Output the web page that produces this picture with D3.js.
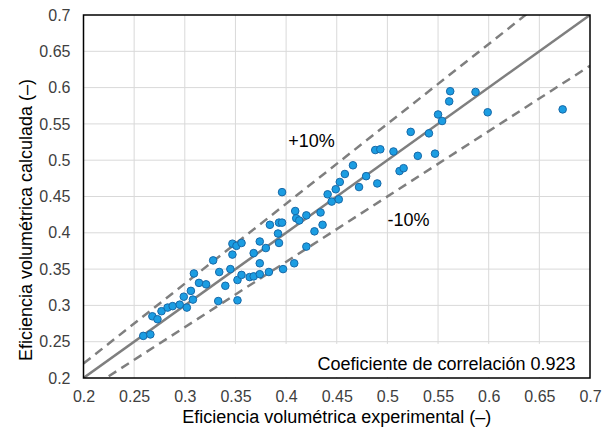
<!DOCTYPE html>
<html>
<head>
<meta charset="utf-8">
<script src="https://cdn.jsdelivr.net/npm/d3@7"></script>
<style>
  body { margin: 0; background: #fff; }
  svg { font-family: "Liberation Sans", Arial, sans-serif; display: block; }
  .grid line { stroke: #d9d9d9; stroke-width: 1; }
  .axis text { fill: #404040; font-size: 16px; }
</style>
</head>
<body>
<svg class="parity" width="609" height="431"></svg>
<script>
// valores
var expVals = [0.259, 0.266, 0.268, 0.273, 0.277, 0.283, 0.288, 0.295, 0.302, 0.299,
  0.308, 0.306, 0.309, 0.314, 0.321, 0.328, 0.334, 0.340, 0.333, 0.345,
  0.347, 0.347, 0.351, 0.356, 0.352, 0.352, 0.356, 0.364, 0.368, 0.374,
  0.374, 0.368, 0.374, 0.380, 0.384, 0.383, 0.392, 0.393, 0.393, 0.396,
  0.397, 0.408, 0.409, 0.410, 0.413, 0.420, 0.420, 0.428, 0.434, 0.436,
  0.445, 0.452, 0.396, 0.441, 0.449, 0.453, 0.458, 0.466, 0.472, 0.479,
  0.490, 0.488, 0.493, 0.506, 0.512, 0.516, 0.530, 0.547, 0.523, 0.541,
  0.550, 0.554, 0.561, 0.562, 0.587, 0.599, 0.673];
var calcVals = [0.258, 0.260, 0.285, 0.281, 0.292, 0.297, 0.299, 0.301, 0.297, 0.312,
  0.308, 0.320, 0.344, 0.331, 0.329, 0.362, 0.346, 0.327, 0.306, 0.350,
  0.370, 0.385, 0.382, 0.386, 0.307, 0.335, 0.342, 0.339, 0.340, 0.343,
  0.358, 0.372, 0.388, 0.379, 0.411, 0.346, 0.399, 0.386, 0.414, 0.414,
  0.350, 0.358, 0.430, 0.420, 0.417, 0.424, 0.381, 0.402, 0.428, 0.411,
  0.443, 0.446, 0.456, 0.453, 0.460, 0.470, 0.481, 0.493, 0.463, 0.478,
  0.468, 0.514, 0.515, 0.512, 0.485, 0.489, 0.506, 0.509, 0.539, 0.537,
  0.563, 0.554, 0.581, 0.595, 0.594, 0.566, 0.570];
var tickLabels = ["0.2", "0.25", "0.3", "0.35", "0.4", "0.45", "0.5", "0.55", "0.6", "0.65", "0.7"];
var bandFactors = [1.1, 0.9];
var bandLabels = ["+10%", "-10%"];
var corrCoef = "0.923";

var svg = d3.select("svg.parity"),
    margin = {top: 15, right: 19, bottom: 53, left: 83.5},
    width = +svg.attr("width") - margin.left - margin.right,
    height = +svg.attr("height") - margin.top - margin.bottom,
    g = svg.append("g").attr("transform", "translate(" + margin.left + "," + margin.top + ")");

var ticks = tickLabels.map(Number);

var x = d3.scaleLinear().domain([0.2, 0.7]).range([0, width]);
var y = d3.scaleLinear().domain([0.2, 0.7]).range([height, 0]);

// rejilla
g.append("g")
    .attr("class", "grid")
    .selectAll("line.v")
    .data(ticks.slice(1, -1))
    .enter().append("line")
      .attr("x1", function(d) { return x(d); })
      .attr("x2", function(d) { return x(d); })
      .attr("y1", 0)
      .attr("y2", height);

g.append("g")
    .attr("class", "grid")
    .selectAll("line.h")
    .data(ticks.slice(1, -1))
    .enter().append("line")
      .attr("y1", function(d) { return y(d); })
      .attr("y2", function(d) { return y(d); })
      .attr("x1", 0)
      .attr("x2", width);

// cuadro del coeficiente
g.append("rect")
    .attr("x", x(0.338))
    .attr("y", y(0.247))
    .attr("width", width - x(0.338) - 1)
    .attr("height", height - y(0.247) - 1)
    .attr("fill", "#fff");

g.append("defs").append("clipPath")
    .attr("id", "clip")
  .append("rect")
    .attr("width", width)
    .attr("height", height);

var lines = g.append("g").attr("clip-path", "url(#clip)");

lines.append("line")
    .attr("x1", x(0.2)).attr("y1", y(0.2))
    .attr("x2", x(0.7)).attr("y2", y(0.7))
    .attr("stroke", "#7f7f7f")
    .attr("stroke-width", 2.5);

lines.selectAll("line.band")
    .data(bandFactors)
    .enter().append("line")
      .attr("class", "band")
      .attr("x1", x(0.2))
      .attr("y1", function(d) { return y(0.2 * d); })
      .attr("x2", x(0.7))
      .attr("y2", function(d) { return y(0.7 * d); })
      .attr("stroke", "#7f7f7f")
      .attr("stroke-width", 2.5)
      .attr("stroke-dasharray", "9,6");

g.selectAll(".dot")
    .data(expVals)
    .enter().append("circle")
      .attr("class", "dot")
      .attr("cx", function(d) { return x(d); })
      .attr("cy", function(d, i) { return y(calcVals[i]); })
      .attr("r", 3.8)
      .attr("fill", "#1b9de2")
      .attr("stroke", "#1769a8")
      .attr("stroke-width", 1);

// marco
g.append("rect")
    .attr("width", width)
    .attr("height", height)
    .attr("fill", "none")
    .attr("stroke", "#000")
    .attr("stroke-width", 1.5);

g.append("g")
    .attr("class", "axis axis--x")
    .attr("transform", "translate(0," + height + ")")
    .call(d3.axisBottom(x).tickValues(ticks).tickSize(0).tickPadding(13)
      .tickFormat(function(d, i) { return tickLabels[i]; }))
    .call(function(s) { s.select(".domain").remove(); });

g.append("g")
    .attr("class", "axis axis--y")
    .call(d3.axisLeft(y).tickValues(ticks).tickSize(0).tickPadding(13)
      .tickFormat(function(d, i) { return tickLabels[i]; }))
    .call(function(s) { s.select(".domain").remove(); });

g.selectAll(".axis text").attr("font-family", null).attr("font-size", null);

g.append("text")
    .attr("x", x(0.402))
    .attr("y", y(0.5175))
    .attr("font-size", "18px")
    .attr("fill", "#000")
    .text(bandLabels[0]);

g.append("text")
    .attr("x", x(0.5))
    .attr("y", y(0.4094))
    .attr("font-size", "18px")
    .attr("fill", "#000")
    .text(bandLabels[1]);

g.append("text")
    .attr("x", x(0.6858))
    .attr("y", y(0.211))
    .attr("text-anchor", "end")
    .attr("font-size", "18px")
    .attr("fill", "#000")
    .text("Coeficiente de correlación " + corrCoef);

g.append("text")
    .attr("text-anchor", "middle")
    .attr("x", width / 2)
    .attr("y", height)
    .attr("dy", "45px")
    .attr("font-size", "18px")
    .attr("fill", "#000")
    .text("Eficiencia volumétrica experimental (–)");

g.append("text")
    .attr("text-anchor", "middle")
    .attr("x", -205)
    .attr("y", -52)
    .attr("transform", "rotate(-90)")
    .attr("font-size", "18px")
    .attr("fill", "#000")
    .text("Eficiencia volumétrica calculada (–)");
</script>
</body>
</html>
